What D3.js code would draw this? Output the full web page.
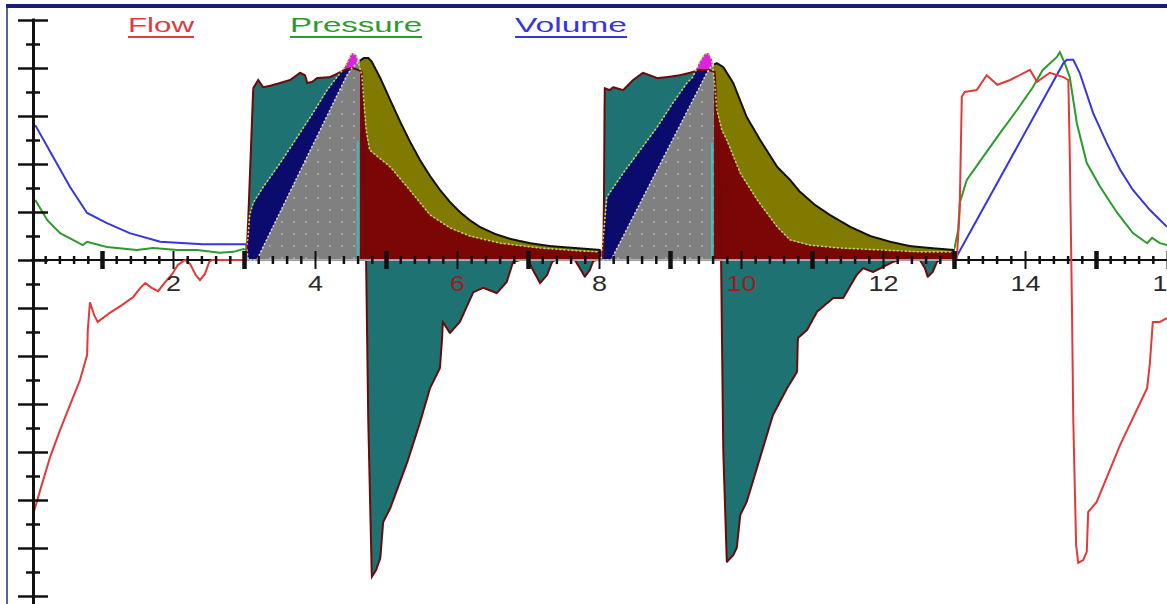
<!DOCTYPE html>
<meta charset="utf-8">

<!-- Load d3.js -->
<script src="https://d3js.org/d3.v7.min.js"></script>
<style>
  body { margin: 0; background: #fff; }
  text { font-family: "Liberation Sans", Arial, sans-serif; }
</style>

<div id="my_dataviz"></div>
<script>

    // ---- data: [time in s, value in axis units] ----
    var flow = [
        [0.04,-5.25],[0.15,-4.69],[0.27,-4.10],[0.41,-3.54],[0.55,-3.02],[0.69,-2.50],[0.79,-1.98],
        [0.80,-1.46],[0.83,-0.88],[0.89,-1.15],[0.94,-1.29],[1.11,-1.10],[1.28,-0.94],[1.44,-0.77],
        [1.54,-0.58],[1.61,-0.48],[1.70,-0.58],[1.79,-0.65],[1.89,-0.46],[1.99,-0.29],[2.07,-0.10],
        [2.17,0],[2.24,-0.08],[2.32,-0.31],[2.38,-0.42],[2.45,-0.29],[2.51,-0.04],[2.55,0],[3.03,0],
        [3.04,0.10],[3.07,1.25],[3.13,3.58],[3.20,3.75],[3.27,3.60],[3.37,3.63],[3.51,3.69],[3.65,3.75],
        [3.79,3.90],[3.86,3.85],[3.89,3.69],[3.96,3.71],[4.03,3.79],[4.21,3.81],[4.31,3.88],[4.42,3.96],
        [4.52,4.00],[4.61,3.96],[4.66,3.92],
        [4.69,2.29],[4.72,-0.04],[4.75,-3.33],[4.80,-6.60],[4.86,-6.46],[4.92,-6.21],[4.96,-5.46],
        [5.06,-5.17],[5.30,-4.21],[5.48,-3.38],[5.62,-2.67],[5.76,-2.25],[5.79,-1.63],[5.80,-1.29],
        [5.90,-1.52],[6.04,-1.29],[6.23,-0.67],[6.37,-0.58],[6.56,-0.69],[6.70,-0.46],[6.79,-0.04],
        [6.89,0],[7.00,0],[7.07,-0.21],[7.17,-0.48],[7.27,-0.31],[7.34,-0.04],[7.38,0],[7.66,0],
        [7.73,-0.17],[7.80,-0.35],[7.87,-0.21],[7.92,-0.02],[7.97,0],[8.04,0],
        [8.06,0.10],[8.07,1.25],[8.08,3.58],[8.15,3.54],[8.20,3.60],[8.34,3.54],[8.48,3.75],[8.62,3.90],
        [8.82,3.79],[8.96,3.81],[9.14,3.85],[9.28,3.90],[9.42,3.96],[9.54,3.96],[9.63,3.92],
        [9.68,2.29],[9.72,-0.04],[9.75,-3.96],[9.80,-6.29],[9.89,-6.15],[9.94,-6.00],[9.99,-5.31],
        [10.08,-5.04],[10.45,-3.23],[10.65,-2.67],[10.79,-2.33],[10.80,-1.63],[10.93,-1.46],[11.07,-1.08],
        [11.30,-0.79],[11.44,-0.79],[11.63,-0.31],[11.72,-0.17],[11.86,-0.25],[12.06,-0.10],[12.14,-0.04],
        [12.24,0],[12.52,0],[12.59,-0.17],[12.63,-0.35],[12.70,-0.25],[12.76,-0.04],[12.80,0],[13.01,0],
        [13.04,0.04],[13.08,1.04],[13.11,3.40],[13.15,3.50],[13.32,3.54],[13.46,3.85],[13.61,3.65],
        [13.79,3.75],[14.07,3.96],[14.17,3.71],[14.35,3.90],[14.54,3.81],[14.61,3.75],[14.63,2.29],
        [14.66,-0.83],[14.68,-3.33],[14.72,-5.94],[14.75,-6.31],[14.82,-6.25],[14.87,-6.08],[14.89,-5.25],
        [15.01,-5.04],[15.34,-3.85],[15.72,-2.67],[15.76,-2.13],[15.80,-1.29],[15.90,-1.29],[16.00,-1.21]
    ];

    var pressure = [
        [0.06,1.25],[0.23,0.83],[0.41,0.56],[0.73,0.31],[0.79,0.38],[1.07,0.27],[1.49,0.21],[1.72,0.25],
        [2.06,0.21],[2.34,0.21],[2.66,0.15],[2.85,0.17],[2.99,0.23],[3.03,0.21],
        [3.06,0.52],[3.08,0.94],[3.13,1.19],[3.27,1.52],[3.51,2.02],[3.75,2.56],[3.97,3.06],[4.17,3.54],
        [4.31,3.81],[4.42,4.02],[4.52,4.31],[4.58,4.27],[4.66,3.85],
        [4.72,2.71],[4.77,2.29],[5.06,1.94],[5.30,1.52],[5.62,0.94],[5.90,0.67],[6.18,0.50],[6.61,0.35],
        [7.17,0.25],[7.73,0.19],[8.01,0.17],
        [8.04,0.21],[8.07,0.63],[8.11,1.31],[8.34,1.81],[8.58,2.29],[8.82,2.77],[9.04,3.27],[9.24,3.69],
        [9.32,3.81],[9.42,4.13],[9.49,4.29],[9.54,4.31],[9.59,4.17],[9.63,3.65],
        [9.66,3.13],[9.73,2.71],[9.80,2.50],[9.99,1.81],[10.23,1.25],[10.51,0.69],[10.69,0.42],[10.97,0.31],
        [11.39,0.25],[11.96,0.21],[12.52,0.17],[12.99,0.17],
        [13.01,0.27],[13.06,0.63],[13.08,1.19],[13.18,1.67],[13.41,2.15],[13.65,2.65],[13.89,3.13],
        [14.11,3.60],[14.25,3.96],[14.45,4.23],[14.49,4.33],[14.56,4.10],[14.63,3.81],[14.73,2.85],
        [14.87,2.02],[15.06,1.52],[15.30,0.98],[15.52,0.56],[15.72,0.35],[15.79,0.46],[15.90,0.35],[16.00,0.31]
    ];

    var volume = [
        [0.06,2.81],[0.31,2.15],[0.55,1.52],[0.79,0.98],[1.07,0.77],[1.39,0.56],[1.82,0.38],[2.42,0.33],
        [3.03,0.33],
        [3.06,0],[3.18,0],[4.45,3.85],[4.52,4.00],[4.61,4.13],[4.69,4.21],[4.75,4.21],[4.80,4.13],
        [4.92,3.79],[5.06,3.33],[5.20,2.88],[5.34,2.46],[5.48,2.08],[5.62,1.75],[5.76,1.46],[5.90,1.21],
        [6.04,1.00],[6.18,0.83],[6.32,0.69],[6.54,0.54],[6.75,0.44],[7.03,0.35],[7.31,0.29],[7.66,0.25],
        [8.01,0.21],
        [8.04,0],[8.17,0],[9.52,3.90],[9.59,4.06],[9.66,4.10],[9.75,4.02],[9.89,3.69],[10.08,2.98],
        [10.27,2.50],[10.51,1.94],[10.69,1.67],[10.83,1.42],[11.04,1.15],[11.25,0.94],[11.54,0.69],
        [11.82,0.50],[12.10,0.38],[12.38,0.29],[12.66,0.25],[12.99,0.21],
        [13.01,0],[14.54,4.10],[14.59,4.17],[14.68,4.17],[14.77,3.90],[14.96,3.06],[15.15,2.44],
        [15.34,1.88],[15.52,1.46],[15.76,1.04],[16.00,0.69]
    ];

    // phases of the two colour-filled breaths (s)
    var breathStart = [3.04, 8.03];
    var inspEnd = [4.63, 9.62];
    var breathEnd = [8.03, 13.0];

    var xLabels = [2, 4, 6, 8, 10, 12, 14, 16];
    var legendNames = ["Flow", "Pressure", "Volume"];

    // ---- layout ----
    var W = 1167, H = 604;
    var lineColor = {Flow: "#e03a3a", Pressure: "#2c9a2c", Volume: "#3636dc"};
    var legendX = {Flow: 128, Pressure: 290, Volume: 515};
    var legendW = {Flow: 66, Pressure: 132, Volume: 112};

    var svg = d3.select("#my_dataviz")
      .append("svg")
        .attr("width", W)
        .attr("height", H);

    var x = d3.scaleLinear().domain([0, 16]).range([31, 1167]);
    var y = d3.scaleLinear().domain([-(604 - 260) / 48, (260 - 18) / 48]).range([604, 18]);

    var defs = svg.append("defs");
    var pat = defs.append("pattern").attr("id", "dots")
        .attr("width", 12).attr("height", 12).attr("patternUnits", "userSpaceOnUse");
    pat.append("rect").attr("width", 12).attr("height", 12).attr("fill", "#808080");
    pat.append("circle").attr("cx", 6).attr("cy", 6).attr("r", 1).attr("fill", "#ababab");

    // the unfilled parts of the trace (before breath 1 and from breath 3 on)
    var clip = defs.append("clipPath").attr("id", "plain");
    clip.append("rect").attr("x", 0).attr("y", 0)
        .attr("width", x(breathStart[0])).attr("height", H);
    clip.append("rect").attr("x", x(breathEnd[1])).attr("y", 0)
        .attr("width", W - x(breathEnd[1])).attr("height", H);

    // frame
    svg.append("rect").attr("x", 6).attr("y", 4).attr("width", W - 6).attr("height", 4).attr("fill", "#1b1b78");
    svg.append("line").attr("x1", 7).attr("x2", 7).attr("y1", 4).attr("y2", H)
        .attr("stroke", "#26268a").attr("stroke-width", 1.5);

    // legend
    legendNames.forEach(function(n) {
        svg.append("text")
            .attr("x", legendX[n]).attr("y", 32)
            .attr("font-size", 20)
            .attr("textLength", legendW[n]).attr("lengthAdjust", "spacingAndGlyphs")
            .attr("fill", lineColor[n])
            .text(n);
        svg.append("line")
            .attr("x1", legendX[n]).attr("x2", legendX[n] + legendW[n])
            .attr("y1", 37).attr("y2", 37)
            .attr("stroke", lineColor[n]).attr("stroke-width", 2);
    });

    // x axis base line
    svg.append("line")
        .attr("x1", x(0)).attr("x2", W)
        .attr("y1", y(0)).attr("y2", y(0))
        .attr("stroke", "#111").attr("stroke-width", 2);

    // linear read-out of a trace at time t
    var bis = d3.bisector(function(d) { return d[0]; }).left;
    function at(s, t) {
        var i = bis(s, t);
        if (i <= 0) return s[0][1];
        if (i >= s.length) return s[s.length - 1][1];
        var a = s[i - 1], b = s[i];
        if (b[0] === a[0]) return b[1];
        return a[1] + (t - a[0]) / (b[0] - a[0]) * (b[1] - a[1]);
    }
    function samples(t0, t1) {
        var n = Math.ceil((t1 - t0) / 0.004);
        return d3.range(n + 1).map(function(i) {
            var t = t0 + (t1 - t0) * i / n;
            return {t: t, f: at(flow, t), p: at(pressure, t), v: at(volume, t)};
        });
    }

    function band(lo, hi) {
        return d3.area()
            .x(function(d) { return x(d.t); })
            .y0(function(d) { return y(lo(d)); })
            .y1(function(d) { return y(hi(d)); });
    }
    var sline = function(key) {
        return d3.line().x(function(d) { return x(d.t); }).y(function(d) { return y(d[key]); });
    };

    var fills = svg.append("g");
    breathStart.forEach(function(t0, k) {
        var ins = samples(t0, inspEnd[k]);
        var exp = samples(inspEnd[k], breathEnd[k]);
        var g = fills.append("g");

        // inspiration
        g.append("path").datum(ins).attr("fill", "url(#dots)")
            .attr("d", band(function() { return 0; }, function(d) { return d.v; }));
        g.append("path").datum(ins).attr("fill", "#0b0b6e")
            .attr("d", band(function(d) { return d.v; }, function(d) { return Math.max(d.v, d.p); }));
        g.append("path").datum(ins).attr("fill", "#1f7272")
            .attr("d", band(function(d) { return Math.max(d.v, d.p); },
                            function(d) { return Math.max(d.v, d.p, d.f); }));
        g.append("path").datum(ins).attr("fill", "#e020e0")
            .attr("d", band(function(d) { return Math.max(d.v, d.f); },
                            function(d) { return Math.max(d.v, d.f, d.p); }));

        // expiration
        g.append("path").datum(exp).attr("fill", "#7a0606")
            .attr("d", band(function() { return 0; }, function(d) { return Math.max(0, d.p); }));
        g.append("path").datum(exp).attr("fill", "#807a00")
            .attr("d", band(function(d) { return d.p; }, function(d) { return Math.max(d.p, d.v); }));
        g.append("path").datum(exp).attr("fill", "#1f7272")
            .attr("d", band(function() { return 0; }, function(d) { return Math.min(0, d.f); }));

        // end-of-inspiration marker
        g.append("line")
            .attr("x1", x(inspEnd[k]) - 2).attr("x2", x(inspEnd[k]) - 2)
            .attr("y1", y(0)).attr("y2", y(at(volume, inspEnd[k]) * 0.6))
            .attr("stroke", "#3cbcbc").attr("stroke-width", 2);

        // outlines
        var all = ins.concat(exp);
        g.append("path").datum(all).attr("fill", "none")
            .attr("stroke", "#6a0a0a").attr("stroke-width", 2).attr("d", sline("f"));
        g.append("path").datum(all).attr("fill", "none")
            .attr("stroke", "#bcdc5a").attr("stroke-width", 1.6).attr("stroke-dasharray", "2,2")
            .attr("d", sline("p"));
        g.append("path").datum(ins).attr("fill", "none")
            .attr("stroke", "#dcdcdc").attr("stroke-width", 1.5).attr("stroke-dasharray", "2,2")
            .attr("d", sline("v"));
        g.append("path").datum(exp).attr("fill", "none")
            .attr("stroke", "#111").attr("stroke-width", 2).attr("d", sline("v"));
    });

    // zero line inside the filled breaths
    svg.append("line")
        .attr("x1", x(breathStart[0])).attr("x2", x(breathEnd[1]))
        .attr("y1", y(0)).attr("y2", y(0))
        .attr("stroke", "#c8c8c8").attr("stroke-width", 1.5);

    // plain traces
    var lineFun = d3.line()
        .x(function(d) { return x(d[0]); })
        .y(function(d) { return y(d[1]); });
    var plain = svg.append("g").attr("clip-path", "url(#plain)");
    [["Pressure", pressure], ["Volume", volume], ["Flow", flow]].forEach(function(s) {
        plain.append("path")
            .attr("d", lineFun(s[1]))
            .attr("fill", "none")
            .attr("stroke", lineColor[s[0]])
            .attr("stroke-width", 2);
    });

    // x axis ticks (both sides of the line)
    var minor = d3.range(1, 81).map(function(i) { return +(i * 0.2).toFixed(1); });
    var xAxis = svg.append("g")
        .attr("transform", "translate(0," + y(0) + ")")
        .call(d3.axisBottom(x).tickValues(minor).tickSize(0).tickFormat(""));
    xAxis.select(".domain").remove();
    xAxis.selectAll(".tick line")
        .attr("stroke", "#111")
        .attr("y1", function(d) { return Number.isInteger(d) ? -9 : -4; })
        .attr("y2", function(d) { return Number.isInteger(d) ? 9 : 4; })
        .attr("stroke-width", function(d) { return Number.isInteger(d) ? (d % 2 ? 4.5 : 2) : 2.5; });

    // x labels
    var inFilled = function(t) { return t > breathStart[0] && t < breathEnd[1]; };
    var xLab = svg.append("g")
        .attr("transform", "translate(0," + y(0) + ")")
        .call(d3.axisBottom(x).tickValues(xLabels).tickSize(0).tickPadding(15).tickFormat(d3.format("d")));
    xLab.select(".domain").remove();
    xLab.selectAll("text")
        .attr("font-size", 22)
        .attr("font-family", "'Liberation Sans', Arial, sans-serif")
        .attr("textLength", function(d) { return String(d).length * 15; })
        .attr("lengthAdjust", "spacingAndGlyphs")
        .attr("fill", function(d) { return inFilled(d) && at(flow, d) < -0.5 ? "#a01c1c" : "#2a2a2a"; });

    // y axis
    var yAxis = svg.append("g")
        .attr("transform", "translate(" + (x(0) + 2) + ",0)")
        .call(d3.axisLeft(y).tickValues(d3.range(-14, 11).map(function(i) { return i / 2; }))
            .tickSize(0).tickFormat(""));
    yAxis.select(".domain").attr("stroke", "#111").attr("stroke-width", 3);
    yAxis.selectAll(".tick line")
        .attr("stroke", "#111").attr("stroke-width", 2.5)
        .attr("x1", function(d) { return Number.isInteger(d) ? -15 : -7; })
        .attr("x2", function(d) { return Number.isInteger(d) ? 15 : 7; });

</script>
